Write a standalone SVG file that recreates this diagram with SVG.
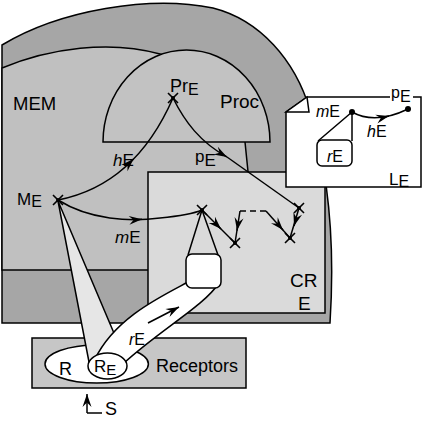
<svg xmlns="http://www.w3.org/2000/svg" width="426" height="421" viewBox="0 0 426 421">
<defs>
<style>
.ln{fill:none;stroke:#000;stroke-width:1.5}
.sh{stroke:#000;stroke-width:1.5}
.t{font-family:"Liberation Sans",Arial,Helvetica,sans-serif;fill:#000}
.i{font-style:italic}
.ar{fill:none;stroke:#000;stroke-width:1.5;marker-end:url(#ah)}
</style>
<marker id="ah" markerUnits="userSpaceOnUse" orient="auto" markerWidth="13" markerHeight="9" refX="13" refY="4.5" viewBox="0 0 13 9" overflow="visible"><path d="M13,4.5 L0,0 L4.5,4.5 L0,9 Z" fill="#000"/></marker>
<g id="xm"><path d="M-5,-5 L5,5 M-5,5 L5,-5" stroke="#000" stroke-width="1.6"/><circle r="2" fill="#000"/></g>
</defs>
<rect width="426" height="421" fill="#fff"/>
<g id="outer"><path d="M2,323 L2,45 C60,10 150,-5 213,8 C260,20 295,60 310,110 C325,160 336,230 330,323 Z" fill="#a6a6a6" class="sh"/></g>
<g id="mem"><path d="M2,270 L2,68 C50,48 110,40 160,54 C200,66 238,100 245,142 L258,270 Z" fill="#c0c0c0" class="sh"/><text class="t" x="13" y="110" font-size="18.5">MEM</text></g>
<g id="proc"><path d="M103,142 A83.5,92 0 0 1 270,142 Z" fill="#c2c2c2" class="sh"/><text class="t" x="220" y="108" font-size="19">Proc</text></g>
<g id="cr"><rect x="148" y="172" width="177" height="141" fill="#dadada" class="sh"/><path class="ln" d="M148,313 L148,323"/><text class="t" x="290" y="287" font-size="19">CR</text><text class="t" x="298" y="310" font-size="19">E</text></g>
<g id="le">
<path d="M307,97 L421,97 L421,187 L286,187 L286,112 Z" fill="#fff" class="sh"/>
<path d="M286,112 L307,97 L309,112 Z" fill="#fff" class="sh"/>
<rect x="390" y="94" width="23" height="7" fill="#fff"/>
<text class="t" x="391" y="98" font-size="16">p<tspan dy="4">E</tspan></text>
<text class="t" x="316" y="117" font-size="16"><tspan class="i">m</tspan>E</text>
<text class="t" x="367" y="137" font-size="16"><tspan class="i">h</tspan>E</text>
<path class="ln" d="M352,112 L318,141 M352,112 L352,141"/>
<rect x="317" y="140" width="35" height="26" rx="5" fill="#fff" class="sh"/>
<text class="t" x="327" y="162" font-size="16"><tspan class="i">r</tspan>E</text>
<text class="t" x="389" y="185" font-size="17">L<tspan font-size="16" dy="2">E</tspan></text>
<path class="ln" d="M352,112 Q375,125 408,109"/>
<path class="ar" d="M383,117.5 L389,116"/>
<circle cx="352" cy="112" r="3" fill="#000"/><circle cx="408" cy="109" r="3" fill="#000"/>
</g>
<g id="receptors"><rect x="32" y="338" width="214" height="50" fill="#c6c6c6" class="sh"/><ellipse cx="96.7" cy="364" rx="51.7" ry="19" fill="#fff" class="sh"/><text class="t" x="59" y="375" font-size="18">R</text><text class="t" x="156" y="372" font-size="18">Receptors</text></g>
<g id="cone"><polygon points="58,201 89,362 119,345" fill="#e6e6e6"/><path class="ln" d="M58,201 L89,362 M58,201 L119,345"/></g>
<g id="tube"><path d="M188,282 C160,297 115,318 95,359 L110,368 L124,363 C160,330 205,305 218,284 Z" fill="#fff" class="sh"/>
<rect x="186" y="254" width="35" height="34" rx="6" fill="#fff" class="sh"/>
<text class="t" x="129" y="345" font-size="16"><tspan class="i">r</tspan>E</text></g>
<g id="re"><ellipse cx="107.5" cy="366" rx="19.5" ry="13" fill="#fff" class="sh"/><text class="t" x="94" y="372" font-size="17">R<tspan font-size="15" dy="3">E</tspan></text></g>
<g id="connectors">
<path class="ln" d="M58,200 Q135,185 173,98"/>
<path class="ar" d="M129,163.5 L133.5,159"/>
<path class="ar" d="M173,98 C185,122 200,142 227,157"/>
<path class="ln" d="M227,157 L299,208"/>
<path class="ln" d="M58,200 C90,220 130,222 160,218 C180,216 195,213 202,210"/>
<path class="ar" d="M136,219.8 L142,219.3"/>
<path class="ln" d="M202,210 L188,255 M202,210 L218,255"/>
<path class="ln" d="M202,210 L235,243"/>
<path class="ar" d="M216,224 L221,229"/>
<path class="ln" stroke-dasharray="6 4" d="M240,211 L266,211"/>
<path class="ln" d="M240,211 L235,243"/>
<path class="ar" d="M238,224.3 L237,230.6"/>
<path class="ln" d="M266,211 L290,238"/>
<path class="ar" d="M279,225.5 L283,230"/>
<path class="ln" d="M299,208 L290,238"/>
<path class="ar" d="M295.5,221 L294,226"/>
<path class="ar" d="M148,323 L179,307"/>
<path class="ar" d="M87,413 L87,394"/>
<path class="ln" d="M87,413 L102,413"/>
</g>
<g id="marks">
<use href="#xm" x="58" y="200"/><use href="#xm" x="173" y="98"/><use href="#xm" x="202" y="210"/><use href="#xm" x="235" y="243"/><use href="#xm" x="299" y="208"/><use href="#xm" x="290" y="238"/>
</g>
<g id="labels">
<text class="t" x="170" y="92" font-size="18">Pr<tspan font-size="16" dy="3">E</tspan></text>
<text class="t" x="17" y="205" font-size="17">M<tspan font-size="16" dy="2">E</tspan></text>
<text class="t" x="113" y="166" font-size="17"><tspan class="i">h</tspan>E</text>
<text class="t" x="195" y="162" font-size="17">p<tspan dy="4">E</tspan></text>
<text class="t" x="115" y="243" font-size="17"><tspan class="i">m</tspan>E</text>
<text class="t" x="105" y="415" font-size="18">S</text>
</g>
</svg>
